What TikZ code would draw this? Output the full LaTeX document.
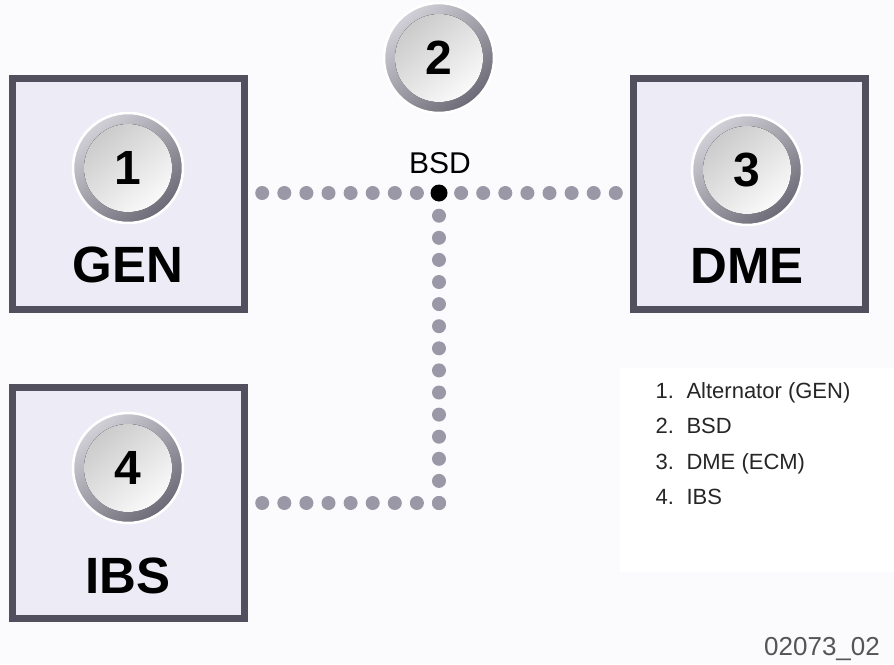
\documentclass[tikz,border=0pt]{standalone}
\usepackage{fontspec}
\setmainfont{Liberation Sans}
\usetikzlibrary{positioning}

\definecolor{pagebg}{HTML}{FBFBFD}
\definecolor{boxline}{HTML}{52505E}
\definecolor{boxfill}{HTML}{EDECF6}
\definecolor{dotgray}{HTML}{9A98A6}
\definecolor{ringlight}{HTML}{D2D1D8}
\definecolor{ringdark}{HTML}{6C6A76}
\definecolor{idgray}{HTML}{555555}

\tikzset{
  unit/.style={draw=boxline, line width=7pt, fill=boxfill,
    minimum width=232pt, minimum height=231pt},
  badge/.style={circle, inner sep=0pt, minimum size=110pt,
    draw=white, line width=2.5pt,
    top color=ringlight, bottom color=ringdark, shading angle=40,
    path picture={
      \fill[top color=gray!45, bottom color=white, shading angle=40]
        (path picture bounding box.center) circle (44pt);},
    font=\bfseries\fontsize{48}{48}\selectfont},
  tag/.style={anchor=base, font=\bfseries\fontsize{51}{51}\selectfont},
  dotline/.style={dotgray, line width=14pt, line cap=round,
    dash pattern=on 0pt off 22.1pt},
  legend/.style={anchor=base west, text=black!85,
    font=\fontsize{22}{22}\selectfont}
}

\begin{document}
\begin{tikzpicture}[x=1pt,y=-1pt]
  \fill[pagebg] (0,0) rectangle (894,664);
  \useasboundingbox (0,0) rectangle (894,664);
  \fill[white] (620,368) rectangle (894,572);

  % bus
  \coordinate (junc) at (439,193);
  \coordinate (corner) at (439,503);
  \coordinate (genport) at (244.5,193);
  \coordinate (dmeport) at (633.5,193);
  \coordinate (ibsport) at (244.5,503);
  \draw[dotline] (junc) -- (genport);
  \draw[dotline] (junc) -- (dmeport);
  \draw[dotline] (corner) -- (junc);
  \draw[dotline] (corner) -- (ibsport);

  % modules
  \node[unit] (gen) at (128.5,193.5) {};
  \node[unit] (dme) at (749.5,194) {};
  \node[unit] (ibs) at (128.5,503) {};

  \node[badge] (c1) at (128,168) {1};
  \node[badge] (c3) at (747,170) {3};
  \node[badge] (c4) at (128,468) {4};
  \node[badge] (c2) at (439,58) {2};

  \node[tag] (gen-lbl) at (128,282) {GEN};
  \node[tag] (dme-lbl) at (747,283) {DME};
  \node[tag] (ibs-lbl) at (128,593) {IBS};

  \node[circle, fill=black, inner sep=0pt, minimum size=17pt] (bsd) at (junc) {};
  \node[anchor=base, font=\fontsize{30}{30}\selectfont] (bsd-lbl) at (440,173) {BSD};

  % legend
  \foreach \num/\txt [count=\i from 0] in {1/Alternator (GEN), 2/BSD, 3/DME (ECM), 4/IBS}
    \node[legend] (leg\num) at (652,398+35.5*\i) {\makebox[31pt][l]{\num.}\txt};

  \node[anchor=base west, inner sep=0pt, text=idgray, font=\fontsize{26}{26}\selectfont] (fig-id) at (764,655) {02073\_02};
\end{tikzpicture}
\end{document}
